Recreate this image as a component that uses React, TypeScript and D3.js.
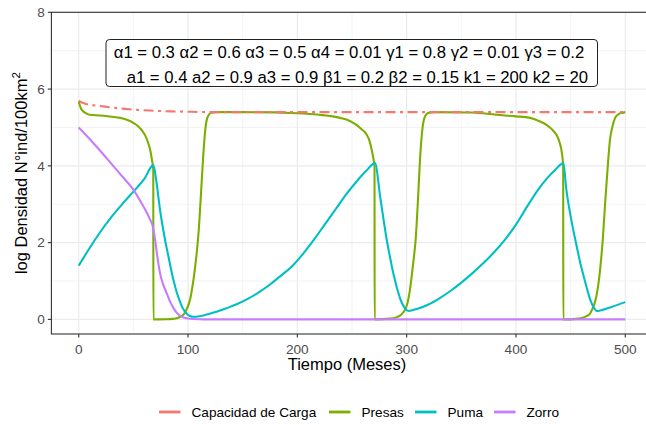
import React from "react";
import * as d3 from "d3";

// Capacidad de carga (log densidad) a lo largo del tiempo
const cargaT = [0, 3, 6, 10, 16, 22.5, 30, 40, 53, 65, 84, 100, 120, 150, 500];
const cargaV = [5.7, 5.65, 5.62, 5.59, 5.57, 5.55, 5.52, 5.49, 5.46, 5.44, 5.42, 5.41, 5.4, 5.4, 5.4];

// Presas
const presasT = [
  0, 1, 2, 3, 4.2, 6, 8, 10, 20, 30, 38, 44, 50, 54, 58, 61, 63.5, 65.5, 67, 68.2, 68.3,
  80, 86, 89.7, 93, 95.7, 99, 101.8, 104, 106, 108, 110, 112, 114, 116, 118, 121, 125, 150, 200, 220, 239,
  248, 254, 259, 263.5, 266, 268, 269.5, 270.6, 270.7, 285, 291, 294, 296.5, 298.5, 301, 303, 306, 308.3,
  310.5, 312.5, 314.7, 317, 320, 325, 360, 382, 400, 413, 421, 428, 433, 437, 440, 442, 443.2, 443.3, 455,
  462, 465, 468, 470, 472.4, 474.5, 476.3, 478, 479.4, 481.5, 484, 486, 488.5, 490.7, 494, 497, 500,
];
const presasV = [
  5.68, 5.58, 5.5, 5.45, 5.42, 5.38, 5.35, 5.33, 5.31, 5.28, 5.25, 5.2, 5.12, 5.04, 4.92, 4.78, 4.6, 4.4,
  4.15, 3.9, 0, 0.005, 0.015, 0.03, 0.07, 0.12, 0.28, 0.51, 0.85, 1.25, 1.75, 2.4, 3.35, 4.3, 5.0,
  5.28, 5.38, 5.4, 5.4, 5.37, 5.33, 5.25, 5.17, 5.07, 4.95, 4.81, 4.65, 4.42, 4.2, 3.98, 0, 0.02, 0.06, 0.1,
  0.17, 0.25, 0.45, 0.77, 1.47, 2.1, 3.2, 4.3, 5.03, 5.3, 5.38, 5.4, 5.39, 5.33, 5.29, 5.25, 5.17, 5.07, 4.95,
  4.81, 4.6, 4.34, 3.98, 0, 0.015, 0.05, 0.09, 0.16, 0.28, 0.46, 0.75, 1.12, 1.6, 2.07, 3.0, 4.0, 4.68, 5.05,
  5.25, 5.35, 5.38, 5.4,
];

// Puma
const pumaT = [
  0, 10, 20, 30, 40, 50, 60, 68.3, 71, 74.4, 79, 82, 86.6, 89.5, 92.7, 95, 97.3, 99.5, 101.8, 105,
  115, 125, 135, 145, 155, 165, 175, 185, 195, 205, 215, 225, 235, 245, 255, 263, 271,
  276, 281.8, 284.8, 287.8, 291, 294, 296.5, 298.5, 301.5,
  310, 320, 330, 340, 350, 360, 370, 380, 390, 400, 410, 420, 428, 436, 443.4,
  446, 449.5, 455.6, 459, 462, 465, 468, 471, 474, 478, 487, 500,
];
const pumaV = [
  1.4, 1.86, 2.29, 2.67, 3.01, 3.33, 3.66, 4.02, 3.6, 2.85, 2.07, 1.65, 1.03, 0.72, 0.46, 0.3, 0.2, 0.13,
  0.09, 0.07, 0.11, 0.19, 0.29, 0.4, 0.54, 0.71, 0.91, 1.14, 1.38, 1.7, 2.07, 2.47, 2.87, 3.27, 3.62, 3.87,
  4.07, 3.15, 2.07, 1.62, 1.2, 0.83, 0.55, 0.38, 0.29, 0.22, 0.28, 0.39, 0.55, 0.74, 0.96, 1.2, 1.46, 1.75,
  2.08, 2.47, 2.93, 3.37, 3.66, 3.9, 4.07, 3.4, 2.77, 1.9, 1.45, 1.12, 0.8, 0.51, 0.32, 0.22, 0.24, 0.32,
  0.45,
];

// Zorro
const zorroT = [
  0, 10, 20, 30, 40, 50, 56, 61, 65, 67.5, 69.9, 72, 74.4, 77.4, 80.5, 83.5, 86.6, 89.7, 92.7, 95.7, 98.8,
  105, 115, 500,
];
const zorroV = [
  5.0, 4.7, 4.38, 4.05, 3.72, 3.38, 3.1, 2.85, 2.62, 2.45, 2.07, 1.62, 1.2, 0.9, 0.68, 0.47, 0.3, 0.17, 0.09,
  0.05, 0.03, 0.01, 0, 0,
];

const xMajor = [0, 100, 200, 300, 400, 500];
const xMinor = [50, 150, 250, 350, 450];
const yMajor = [0, 2, 4, 6, 8];
const yMinor = [1, 3, 5, 7];

const seriesNames = ["Capacidad de Carga", "Presas", "Puma", "Zorro"];
const seriesColors = ["#F8766D", "#7CAE00", "#00BFC4", "#C77CFF"];

const paramLine1 = "α1 = 0.3 α2 = 0.6 α3 = 0.5 α4 = 0.01 γ1 = 0.8 γ2 = 0.01 γ3 = 0.2";
const paramLine2 = " a1 = 0.4 a2 = 0.9 a3 = 0.9 β1 = 0.2 β2 = 0.15 k1 = 200 k2 = 20";

const FONT = "'Liberation Sans', Arial, Helvetica, sans-serif";

const W = 646;
const H = 425;
const P = { left: 51.4, right: 652.6, top: 12.3, bottom: 334 };

const zip = (t: number[], v: number[]) => t.map((d, i) => [d, v[i]] as [number, number]);

export default function App() {
  const x = d3.scaleLinear().domain([-25, 525]).range([P.left, P.right]);
  const y = d3.scaleLinear().domain([-0.38, 8]).range([P.bottom, P.top]);
  const line = d3
    .line<[number, number]>()
    .x((d) => x(d[0]))
    .y((d) => y(d[1]))
    .curve(d3.curveMonotoneX);

  const series = [
    { name: seriesNames[1], color: seriesColors[1], data: zip(presasT, presasV) },
    { name: seriesNames[2], color: seriesColors[2], data: zip(pumaT, pumaV) },
    { name: seriesNames[3], color: seriesColors[3], data: zip(zorroT, zorroV) },
  ];

  const legendKeyX = [159, 329, 415, 494];

  return (
    <svg
      width={W}
      height={H}
      style={{ position: "absolute", left: 0, top: 0, background: "#fff" }}
      fontFamily={FONT}
    >
      <defs>
        <clipPath id="panel">
          <rect x={P.left} y={P.top} width={P.right - P.left} height={P.bottom - P.top} />
        </clipPath>
      </defs>
      <rect x={0} y={0} width={W} height={H} fill="#fff" />
      {/* grid */}
      {yMinor.map((v) => (
        <line key={"ym" + v} x1={P.left} x2={P.right} y1={y(v)} y2={y(v)} stroke="#EBEBEB" strokeWidth={0.6} />
      ))}
      {xMinor.map((v) => (
        <line key={"xm" + v} y1={P.top} y2={P.bottom} x1={x(v)} x2={x(v)} stroke="#EBEBEB" strokeWidth={0.6} />
      ))}
      {yMajor.map((v) => (
        <line key={"yM" + v} x1={P.left} x2={P.right} y1={y(v)} y2={y(v)} stroke="#EBEBEB" strokeWidth={1.2} />
      ))}
      {xMajor.map((v) => (
        <line key={"xM" + v} y1={P.top} y2={P.bottom} x1={x(v)} x2={x(v)} stroke="#EBEBEB" strokeWidth={1.2} />
      ))}

      {/* series */}
      <g clipPath="url(#panel)">
        {series.map((s) => (
          <path key={s.name} d={line(s.data) || ""} fill="none" stroke={s.color} strokeWidth={2.1} strokeLinejoin="round" />
        ))}
        <path
          d={line(zip(cargaT, cargaV)) || ""}
          fill="none"
          stroke={seriesColors[0]}
          strokeWidth={2.1}
          strokeDasharray="10 4.5 3 4.5"
        />
      </g>

      {/* panel border */}
      <rect
        x={P.left}
        y={P.top}
        width={P.right - P.left}
        height={P.bottom - P.top}
        fill="none"
        stroke="#333333"
        strokeWidth={1.1}
      />

      {/* parameter label */}
      <rect x={106} y={39.5} width={491.5} height={47} rx={3.5} fill="#fff" stroke="#222" strokeWidth={1} />
      <text x={349} y={58} fontSize={16.7} textAnchor="middle" fill="#000">
        {paramLine1}
      </text>
      <text x={355} y={83} fontSize={16.7} textAnchor="middle" fill="#000" style={{ whiteSpace: "pre" }}>
        {paramLine2}
      </text>

      {/* y axis */}
      {yMajor.map((v) => (
        <g key={"yt" + v}>
          <line x1={P.left - 3.6} x2={P.left} y1={y(v)} y2={y(v)} stroke="#333" strokeWidth={1.1} />
          <text x={P.left - 6.5} y={y(v)} dy="0.35em" textAnchor="end" fontSize={13.6} fill="#4D4D4D">
            {v}
          </text>
        </g>
      ))}
      {/* x axis */}
      {xMajor.map((v) => (
        <g key={"xt" + v}>
          <line x1={x(v)} x2={x(v)} y1={P.bottom} y2={P.bottom + 3.6} stroke="#333" strokeWidth={1.1} />
          <text x={x(v)} y={353.5} textAnchor="middle" fontSize={13.6} fill="#4D4D4D">
            {v}
          </text>
        </g>
      ))}

      <text x={347} y={370} textAnchor="middle" fontSize={16.5} fill="#000">
        Tiempo (Meses)
      </text>
      <text transform={`translate(26.5, ${(P.top + P.bottom) / 2}) rotate(-90)`} textAnchor="middle" fontSize={16.5} fill="#000">
        log Densidad N°ind/100km
        <tspan dy={-7} fontSize={11.5}>
          2
        </tspan>
      </text>

      {/* legend */}
      {seriesNames.map((n, i) => (
        <g key={n}>
          <line
            x1={legendKeyX[i]}
            x2={legendKeyX[i] + 21.5}
            y1={412}
            y2={412}
            stroke={seriesColors[i]}
            strokeWidth={2.8}
          />
          <text x={legendKeyX[i] + 32.5} y={412} dy="0.35em" fontSize={13.6} fill="#000">
            {n}
          </text>
        </g>
      ))}
    </svg>
  );
}
